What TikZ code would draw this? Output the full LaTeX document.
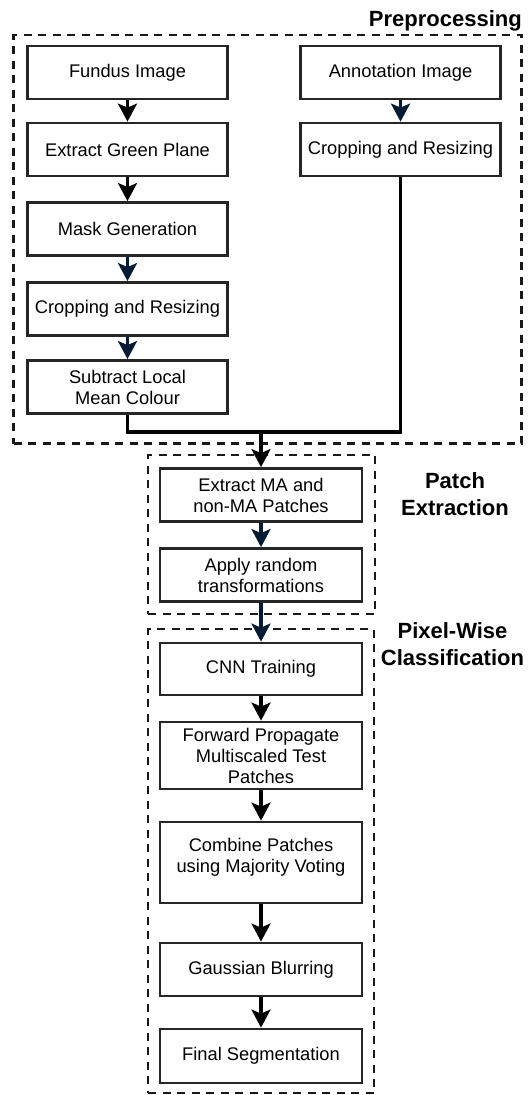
\documentclass[tikz,border=0pt]{standalone}
\usepackage{fontspec}
\setmainfont{Liberation Sans}
\usetikzlibrary{arrows.meta}
\definecolor{navy}{RGB}{0,27,51}
\begin{document}
\begin{tikzpicture}[x=1pt,y=-1pt,
  box/.style={draw=black!85, line width=2.8pt, minimum width=200pt, minimum height=53pt,
    inner sep=2pt, align=center, font=\fontsize{18.3}{21}\selectfont, fill=white},
  grp/.style={draw=black!90, line width=2.7pt, dash pattern=on 8pt off 6.5pt, minimum width=#1},
  lbl/.style={font=\fontsize{22}{27}\selectfont\bfseries, align=center, inner sep=0pt},
  arr/.style={line width=3.2pt, -{Stealth[length=18pt,width=19pt,inset=4pt]}},
  conn/.style={line width=3.2pt},
]
\useasboundingbox (0,0) rectangle (531,1095);
% groups
\node[grp=508pt, minimum height=408.5pt] (pre) at (267.5,239.25) {};
\node[grp=227pt, minimum height=159pt] (patchgrp) at (261.5,534.5) {};
\node[grp=226pt, minimum height=464pt] (pixgrp) at (261,861) {};
% labels
\node[lbl, anchor=base east] (prelbl) at (522,26.5) {Preprocessing};
\node[lbl] (patchlbl) at (455,494.5) {Patch\\Extraction};
\node[lbl] (pixlbl) at (452.5,644.5) {Pixel-Wise\\Classification};
% left column
\node[box] (fundus) at (127.5,72.5) {Fundus Image};
\node[box] (green) at (127.5,149.5) {Extract Green Plane};
\node[box] (mask) at (127.5,229) {Mask Generation};
\node[box] (cropL) at (127.5,309) {Cropping and Resizing};
\node[box] (sub) at (127.5,387) {Subtract Local\\Mean Colour};
% right column
\node[box] (annot) at (400.5,72.5) {Annotation Image};
\node[box] (cropR) at (400.5,149.5) {Cropping and Resizing};
% patch extraction
\node[box, minimum width=202pt] (exma) at (261,495) {Extract MA and\\non-MA Patches};
\node[box, minimum width=202pt] (apply) at (261,575) {Apply random\\transformations};
% pixel-wise
\node[box, minimum width=202pt, minimum height=52pt] (cnn) at (261,669) {CNN Training};
\node[box, minimum width=202pt, minimum height=67pt] (fwd) at (261,755.5) {Forward Propagate\\Multiscaled Test\\Patches};
\node[box, minimum width=202pt, minimum height=81pt] (comb) at (261,862.5) {Combine Patches\\using Majority Voting\\[-6pt]\mbox{}};
\node[box, minimum width=202pt] (gauss) at (261,969.5) {Gaussian Blurring};
\node[box, minimum width=202pt, minimum height=54pt] (final) at (261,1056) {Final Segmentation};
% connectors
\coordinate (jn) at (261,432);
\draw[arr] (fundus) -- (green);
\draw[arr] (green) -- (mask);
\draw[arr, navy] (mask) -- (cropL);
\draw[arr, navy] (cropL) -- (sub);
\draw[arr, navy] (annot) -- (cropR);
\draw[conn] (sub.south) -- (sub.south |- jn) -- (jn);
\draw[conn] (cropR.south) -- (cropR.south |- jn) -- (jn);
\draw[arr] (jn) -- (exma.north);
\draw[arr, navy] (exma) -- (apply);
\draw[arr, navy] (apply) -- (cnn);
\draw[arr] (cnn) -- (fwd);
\draw[arr] (fwd) -- (comb);
\draw[arr] (comb) -- (gauss);
\draw[arr] (gauss) -- (final);
\end{tikzpicture}
\end{document}
